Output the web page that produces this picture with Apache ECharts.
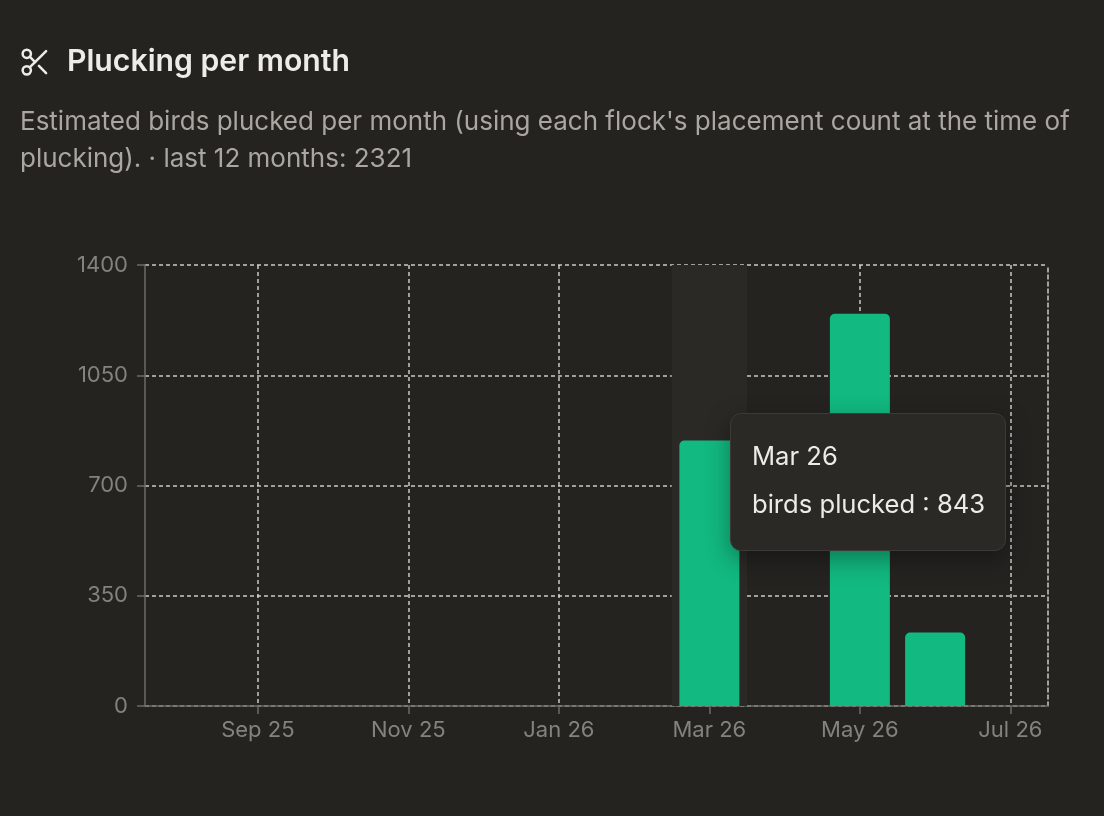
<!DOCTYPE html>
<html>
<head>
<meta charset="utf-8">
<script src="https://cdn.jsdelivr.net/npm/echarts@6/dist/echarts.min.js"></script>
<style>
  html, body { margin: 0; padding: 0; background: #242320; }
  #chart { width: 1104px; height: 816px; }
</style>
</head>
<body>
<div id="chart"></div>
<script>
const months = ['Aug 25','Sep 25','Oct 25','Nov 25','Dec 25','Jan 26','Feb 26','Mar 26','Apr 26','May 26','Jun 26','Jul 26'];
const birdsPlucked = [0, 0, 0, 0, 0, 0, 0, 843, 0, 1245, 233, 0];
const seriesName = 'birds plucked';
const titleText = 'Plucking per month';
const subtitleText = "Estimated birds plucked per month (using each flock's placement count at the time of\nplucking). · last 12 months: 2321";
const yMin = 0, yMax = 1400, yStep = 350;

const FONT = 'Inter, "Noto Sans", sans-serif';
const chart = echarts.init(document.getElementById('chart'), null, { renderer: 'canvas' });
const gridColor = 'rgba(222,221,215,0.9)';
const axisGray = '#6c6b66';
const labelGray = '#84827c';

chart.setOption({
  backgroundColor: '#242320',
  animation: false,
  textStyle: { fontFamily: FONT },
  title: [
    { text: titleText, left: 67, top: 47, padding: 0,
      textStyle: { color: '#eeece6', fontSize: 30.2, fontWeight: 600, fontFamily: FONT } },
    { text: subtitleText, left: 20, top: 104, padding: 0,
      textStyle: { color: '#a9a7a0', fontSize: 26, fontWeight: 400, lineHeight: 37, fontFamily: FONT } }
  ],
  graphic: [{
    type: 'group', x: 18.5, y: 45.5, scaleX: 1.38, scaleY: 1.38,
    children: [
      { type: 'circle', shape: { cx: 6, cy: 6, r: 3 }, style: { fill: 'none', stroke: '#eeece6', lineWidth: 1.8 } },
      { type: 'circle', shape: { cx: 6, cy: 18, r: 3 }, style: { fill: 'none', stroke: '#eeece6', lineWidth: 1.8 } },
      { type: 'line', shape: { x1: 8.12, y1: 8.12, x2: 12, y2: 12 }, style: { stroke: '#eeece6', lineWidth: 1.8, lineCap: 'round' } },
      { type: 'line', shape: { x1: 20, y1: 4, x2: 8.12, y2: 15.88 }, style: { stroke: '#eeece6', lineWidth: 1.8, lineCap: 'round' } },
      { type: 'line', shape: { x1: 14.8, y1: 14.8, x2: 20, y2: 20 }, style: { stroke: '#eeece6', lineWidth: 1.8, lineCap: 'round' } }
    ]
  }],
  grid: { left: 145, right: 56, top: 265, bottom: 110, containLabel: false },
  tooltip: {
    trigger: 'axis',
    alwaysShowContent: true,
    transitionDuration: 0,
    position: [730, 413],
    axisPointer: { type: 'shadow', z: 1, shadowStyle: { color: '#2a2926', opacity: 1 } },
    backgroundColor: '#2a2926',
    borderColor: '#3b3a36',
    borderWidth: 1,
    borderRadius: 11,
    padding: [18, 20, 22, 21],
    extraCssText: 'box-shadow: 0 8px 24px rgba(0,0,0,0.35);',
    formatter: function (params) {
      const p = params[0];
      return '<div style="font-family:Inter,sans-serif;font-size:25.6px;line-height:48px;color:#ecebe6;white-space:nowrap">' +
        p.name + '<br/>' + p.seriesName + ' : ' + p.value + '</div>';
    }
  },
  xAxis: {
    type: 'category',
    data: months,
    boundaryGap: true,
    axisLine: { show: true, lineStyle: { color: axisGray, width: 1.5 } },
    axisTick: { show: true, alignWithLabel: true, interval: (i) => i % 2 === 1, length: 8, lineStyle: { color: axisGray, width: 1.5 } },
    axisLabel: { interval: (i) => i % 2 === 1, color: labelGray, fontSize: 22, margin: 13, fontFamily: FONT },
    splitLine: { show: true, alignWithLabel: true, interval: (i) => i % 2 === 1,
      lineStyle: { color: gridColor, type: [4, 3], width: 1.5 } }
  },
  yAxis: [{
    type: 'value',
    min: yMin, max: yMax, interval: yStep,
    axisLine: { show: true, lineStyle: { color: axisGray, width: 1.5 } },
    axisTick: { show: true, length: 8, lineStyle: { color: axisGray, width: 1.5 } },
    axisLabel: { color: labelGray, fontSize: 22, margin: 17, fontFamily: FONT, formatter: (v) => String(v) },
    splitLine: { show: true, showMinLine: true, showMaxLine: true, lineStyle: { color: gridColor, type: [4, 3], width: 1.5 } }
  }, {
    type: 'value', position: 'right',
    min: yMin, max: yMax, interval: yStep,
    axisLine: { show: true, lineStyle: { color: gridColor, type: [4, 3], width: 1.5 } },
    axisTick: { show: false }, axisLabel: { show: false }, splitLine: { show: false }
  }],
  series: [{
    name: seriesName,
    type: 'bar',
    data: birdsPlucked,
    barWidth: 60,
    z: 2,
    itemStyle: { color: '#12b981', borderRadius: [5, 5, 0, 0] },
    emphasis: { disabled: true }
  }]
});

chart.dispatchAction({ type: 'showTip', seriesIndex: 0, dataIndex: 7 });
</script>
</body>
</html>
